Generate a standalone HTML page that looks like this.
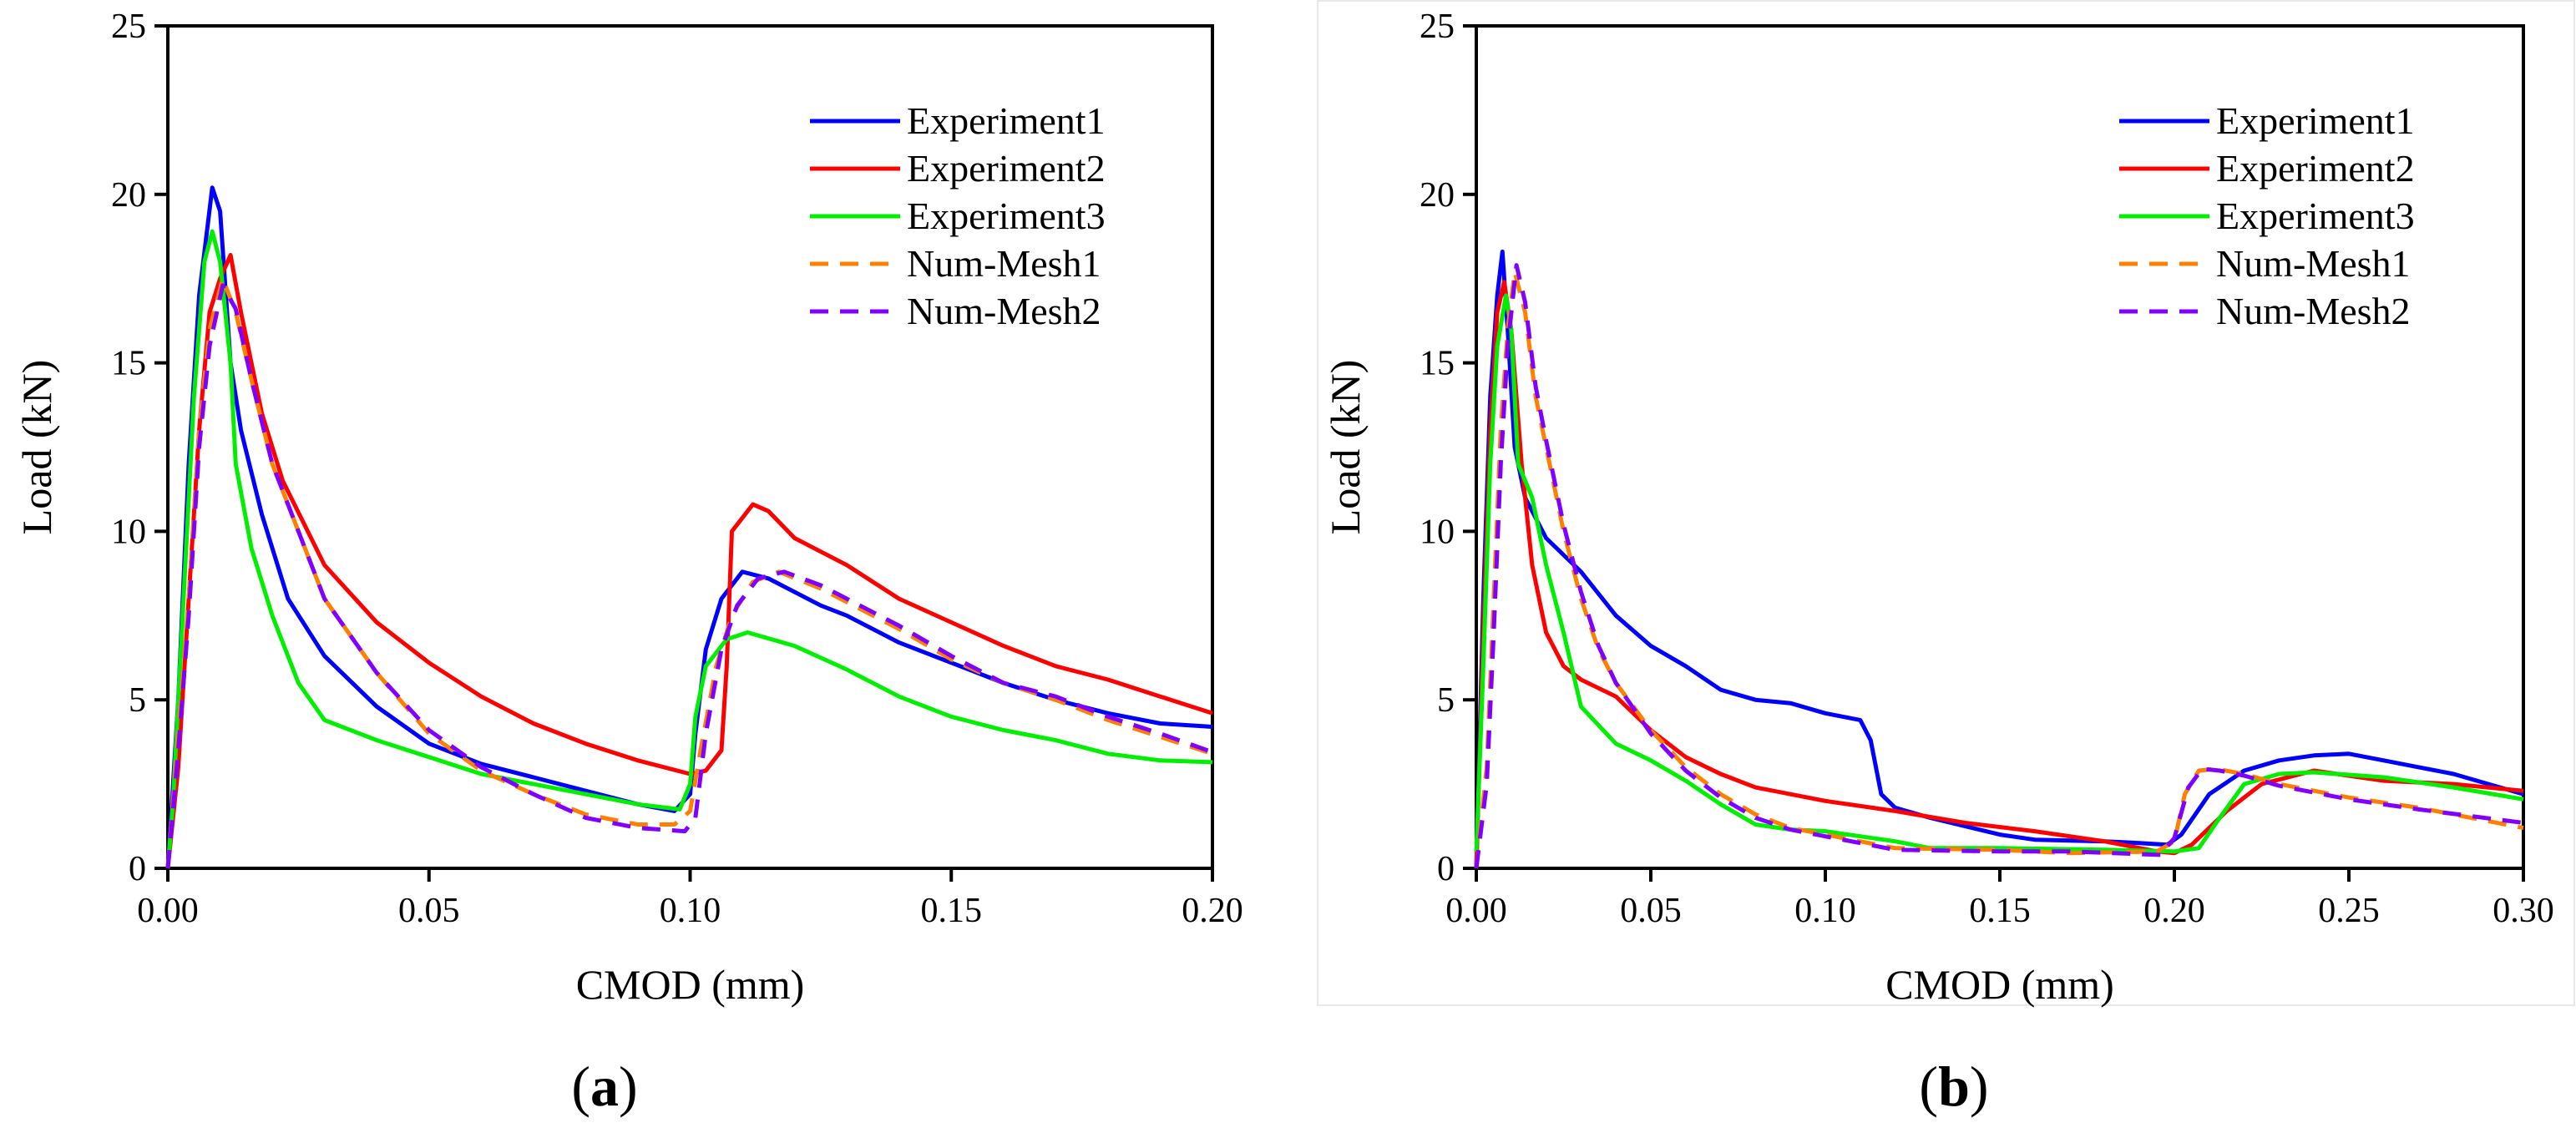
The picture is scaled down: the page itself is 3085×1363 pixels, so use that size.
<!DOCTYPE html>
<html><head><meta charset="utf-8"><style>
html,body{margin:0;padding:0;background:#fff;}
svg, svg text{font-family:"Liberation Serif","DejaVu Serif",serif !important;}
</style></head><body>
<svg id="fig" width="3085" height="1358" viewBox="0 0 3085 1358" xmlns="http://www.w3.org/2000/svg" font-family="Liberation Serif, serif">
<rect x="1578" y="1" width="1505" height="1203" fill="none" stroke="#e8e8e8" stroke-width="2"/>
<g id="pa"></g>
<g id="pb"></g>
<text x="724" y="1324" font-size="68" text-anchor="middle" font-family="Liberation Serif, serif">(<tspan font-weight="bold">a</tspan>)</text>
<text x="2340" y="1324" font-size="68" text-anchor="middle" font-family="Liberation Serif, serif">(<tspan font-weight="bold">b</tspan>)</text>
</svg>
<script>
const seriesNames=["Experiment1","Experiment2","Experiment3","Num-Mesh1","Num-Mesh2"];
const seriesColors=["#0000ff","#ff0000","#00ee00","#ff8000","#8000ff"];
const yTicks=[0,5,10,15,20,25];
const xTicksA=["0.00","0.05","0.10","0.15","0.20"];
const xTicksB=["0.00","0.05","0.10","0.15","0.20","0.25","0.30"];
const aExp1=[[0,0],[0.002,5],[0.004,12],[0.006,17],[0.0085,20.2],[0.010,19.5],[0.012,15],[0.014,13],[0.018,10.5],[0.023,8],[0.03,6.3],[0.04,4.8],[0.05,3.7],[0.06,3.1],[0.07,2.7],[0.08,2.3],[0.09,1.9],[0.097,1.7],[0.1,2.2],[0.101,4],[0.103,6.5],[0.106,8],[0.11,8.8],[0.115,8.6],[0.125,7.8],[0.13,7.5],[0.14,6.7],[0.15,6.1],[0.16,5.5],[0.17,5],[0.18,4.6],[0.19,4.3],[0.2,4.2]];
const aExp2=[[0,0],[0.002,3],[0.004,8],[0.006,13],[0.008,16.5],[0.010,17.5],[0.012,18.2],[0.014,16.5],[0.018,13.5],[0.022,11.5],[0.03,9],[0.04,7.3],[0.05,6.1],[0.06,5.1],[0.07,4.3],[0.08,3.7],[0.09,3.2],[0.1,2.8],[0.103,2.9],[0.106,3.5],[0.107,6],[0.108,10],[0.112,10.8],[0.115,10.6],[0.12,9.8],[0.13,9],[0.14,8],[0.15,7.3],[0.16,6.6],[0.17,6],[0.18,5.6],[0.19,5.1],[0.2,4.6]];
const aExp3=[[0,0],[0.001,2],[0.003,8],[0.005,14],[0.007,18],[0.0085,18.9],[0.010,18],[0.012,15],[0.013,12],[0.016,9.5],[0.02,7.5],[0.025,5.5],[0.03,4.4],[0.04,3.8],[0.05,3.3],[0.06,2.8],[0.07,2.5],[0.08,2.2],[0.09,1.9],[0.098,1.75],[0.1,2.5],[0.101,4.5],[0.103,6],[0.107,6.8],[0.111,7],[0.12,6.6],[0.13,5.9],[0.14,5.1],[0.15,4.5],[0.16,4.1],[0.17,3.8],[0.18,3.4],[0.19,3.2],[0.2,3.15]];
const aMesh1=[[0,0],[0.002,4],[0.004,8],[0.006,13],[0.008,16],[0.0105,17.5],[0.013,16.5],[0.016,14.5],[0.02,12],[0.025,10],[0.03,8],[0.04,5.8],[0.05,4],[0.06,2.9],[0.07,2.2],[0.08,1.6],[0.09,1.3],[0.097,1.3],[0.1,1.7],[0.102,3.5],[0.105,6],[0.108,7.5],[0.112,8.5],[0.117,8.8],[0.125,8.3],[0.14,7.1],[0.15,6.2],[0.16,5.5],[0.17,5],[0.18,4.4],[0.19,3.9],[0.2,3.4]];
const aMesh2=[[0,0],[0.002,3.5],[0.004,7.5],[0.006,12.5],[0.008,15.5],[0.0105,17.3],[0.013,16.6],[0.016,14.5],[0.02,12],[0.025,10],[0.03,8],[0.04,5.8],[0.05,4.1],[0.06,3],[0.07,2.2],[0.08,1.5],[0.09,1.2],[0.099,1.1],[0.101,1.5],[0.103,4],[0.106,6.5],[0.109,7.8],[0.113,8.6],[0.118,8.8],[0.125,8.4],[0.14,7.2],[0.15,6.3],[0.16,5.5],[0.17,5.1],[0.18,4.5],[0.19,4],[0.2,3.45]];
const bExp1=[[0,0],[0.002,8],[0.004,14],[0.006,17],[0.0075,18.3],[0.009,16],[0.011,12.5],[0.014,11],[0.02,9.8],[0.03,8.8],[0.04,7.5],[0.05,6.6],[0.06,6],[0.07,5.3],[0.08,5],[0.09,4.9],[0.1,4.6],[0.11,4.4],[0.113,3.8],[0.116,2.2],[0.12,1.8],[0.13,1.5],[0.15,1],[0.16,0.85],[0.18,0.8],[0.19,0.75],[0.198,0.7],[0.202,1],[0.21,2.2],[0.22,2.9],[0.23,3.2],[0.24,3.35],[0.25,3.4],[0.26,3.2],[0.27,3],[0.28,2.8],[0.29,2.5],[0.3,2.2]];
const bExp2=[[0,0],[0.002,7],[0.004,13],[0.006,16.5],[0.008,17.4],[0.01,16],[0.013,12],[0.016,9],[0.02,7],[0.025,6],[0.03,5.6],[0.04,5.1],[0.05,4.1],[0.06,3.3],[0.07,2.8],[0.08,2.4],[0.1,2],[0.12,1.7],[0.14,1.35],[0.16,1.1],[0.18,0.8],[0.195,0.5],[0.2,0.45],[0.205,0.7],[0.215,1.7],[0.225,2.5],[0.24,2.9],[0.26,2.6],[0.28,2.5],[0.3,2.3]];
const bExp3=[[0,0.5],[0.002,6],[0.004,12],[0.006,15.5],[0.0085,17],[0.010,16],[0.012,12],[0.016,11],[0.02,9],[0.025,7],[0.03,4.8],[0.04,3.7],[0.05,3.2],[0.06,2.6],[0.07,1.9],[0.08,1.3],[0.09,1.15],[0.1,1.1],[0.11,0.95],[0.12,0.8],[0.13,0.6],[0.15,0.6],[0.18,0.55],[0.2,0.5],[0.207,0.6],[0.213,1.5],[0.22,2.5],[0.23,2.8],[0.24,2.85],[0.26,2.7],[0.28,2.4],[0.3,2.05]];
const bMesh1=[[0,0],[0.003,3],[0.005,8],[0.007,13],[0.009,16],[0.011,17.7],[0.014,16.5],[0.017,14],[0.02,12.5],[0.025,10],[0.03,8],[0.035,6.5],[0.04,5.5],[0.05,4.1],[0.06,3],[0.07,2.2],[0.08,1.6],[0.09,1.2],[0.1,1],[0.11,0.8],[0.12,0.6],[0.15,0.55],[0.17,0.45],[0.195,0.5],[0.2,0.8],[0.203,2.2],[0.207,2.9],[0.212,2.95],[0.22,2.8],[0.23,2.5],[0.25,2.1],[0.27,1.8],[0.3,1.2]];
const bMesh2=[[0,0],[0.003,2.5],[0.005,7],[0.007,12],[0.009,15.5],[0.0115,17.9],[0.014,16.8],[0.017,14.3],[0.02,12.7],[0.025,10.2],[0.03,8.2],[0.035,6.6],[0.04,5.5],[0.05,4],[0.06,2.9],[0.07,2.1],[0.08,1.5],[0.09,1.15],[0.1,0.95],[0.11,0.75],[0.12,0.55],[0.15,0.5],[0.17,0.5],[0.196,0.4],[0.2,0.9],[0.204,2.4],[0.208,2.95],[0.213,2.9],[0.22,2.75],[0.23,2.45],[0.25,2.05],[0.27,1.75],[0.3,1.35]];

const NS="http://www.w3.org/2000/svg";
const FF="Liberation Serif, serif";
function mk(parent,tag,attrs){const e=document.createElementNS(NS,tag);for(const k in attrs)e.setAttribute(k,attrs[k]);parent.appendChild(e);return e;}

function drawChart(g,L,R,T,B,xMax,xTicks,series,legendX){
  const xs=v=>L+(v/xMax)*(R-L);
  const ys=v=>B-(v/25)*(B-T);
  const fr=mk(g,'rect',{x:L,y:T,width:R-L,height:B-T,fill:'none',stroke:'#000','stroke-width':4});
  
  
  yTicks.forEach(t=>{
    const ln=mk(g,'line',{x1:L-16,x2:L,y1:ys(t),y2:ys(t),stroke:'#000','stroke-width':4});
    
    
    const tx=mk(g,'text',{x:L-26,y:ys(t)+14,'font-size':42,'text-anchor':'end','font-family':FF});
    tx.textContent=t;
    
    
  });
  xTicks.forEach(t=>{
    const v=parseFloat(t);
    const ln=mk(g,'line',{x1:xs(v),x2:xs(v),y1:B,y2:B+16,stroke:'#000','stroke-width':4});
    
    
    const tx=mk(g,'text',{x:xs(v),y:B+64,'font-size':42,'text-anchor':'middle','font-family':FF});
    tx.textContent=t;
    
    
  });
  const xt=mk(g,'text',{x:(L+R)/2,y:B+156,'font-size':50,'text-anchor':'middle','font-family':FF});
  xt.textContent='CMOD (mm)';
  
  
  const yt=mk(g,'text',{x:0,y:0,'font-size':50,'text-anchor':'middle','font-family':FF,transform:`translate(${L-140},${(T+B)/2}) rotate(-90)`});
  yt.textContent='Load (kN)';
  
  
  series.forEach((s,i)=>{
    const d=s.map((p,j)=>(j?'L':'M')+xs(p[0]).toFixed(1)+','+ys(p[1]).toFixed(1)).join(' ');
    const a={d:d,fill:'none',stroke:seriesColors[i],'stroke-width':5,'stroke-linejoin':'round'};
    if(i>=3){a['stroke-dasharray']='22,14';}
    const p=mk(g,'path',a);
    
    
  });
  seriesNames.forEach((n,i)=>{
    const y=145+i*57;
    const a={x1:legendX,x2:legendX+108,y1:y,y2:y,stroke:seriesColors[i],'stroke-width':5};
    if(i>=3){a['stroke-dasharray']='22,14';}
    const ln=mk(g,'line',a);
    
    
    const tx=mk(g,'text',{x:legendX+116,y:y+15,'font-size':46,'font-family':FF});
    tx.textContent=n;
    
    
  });
}
drawChart(document.getElementById('pa'),201,1452,31,1040,0.2,xTicksA,[aExp1,aExp2,aExp3,aMesh1,aMesh2],970);
drawChart(document.getElementById('pb'),1768,3022,31,1040,0.3,xTicksB,[bExp1,bExp2,bExp3,bMesh1,bMesh2],2538);
</script>
</body></html>
